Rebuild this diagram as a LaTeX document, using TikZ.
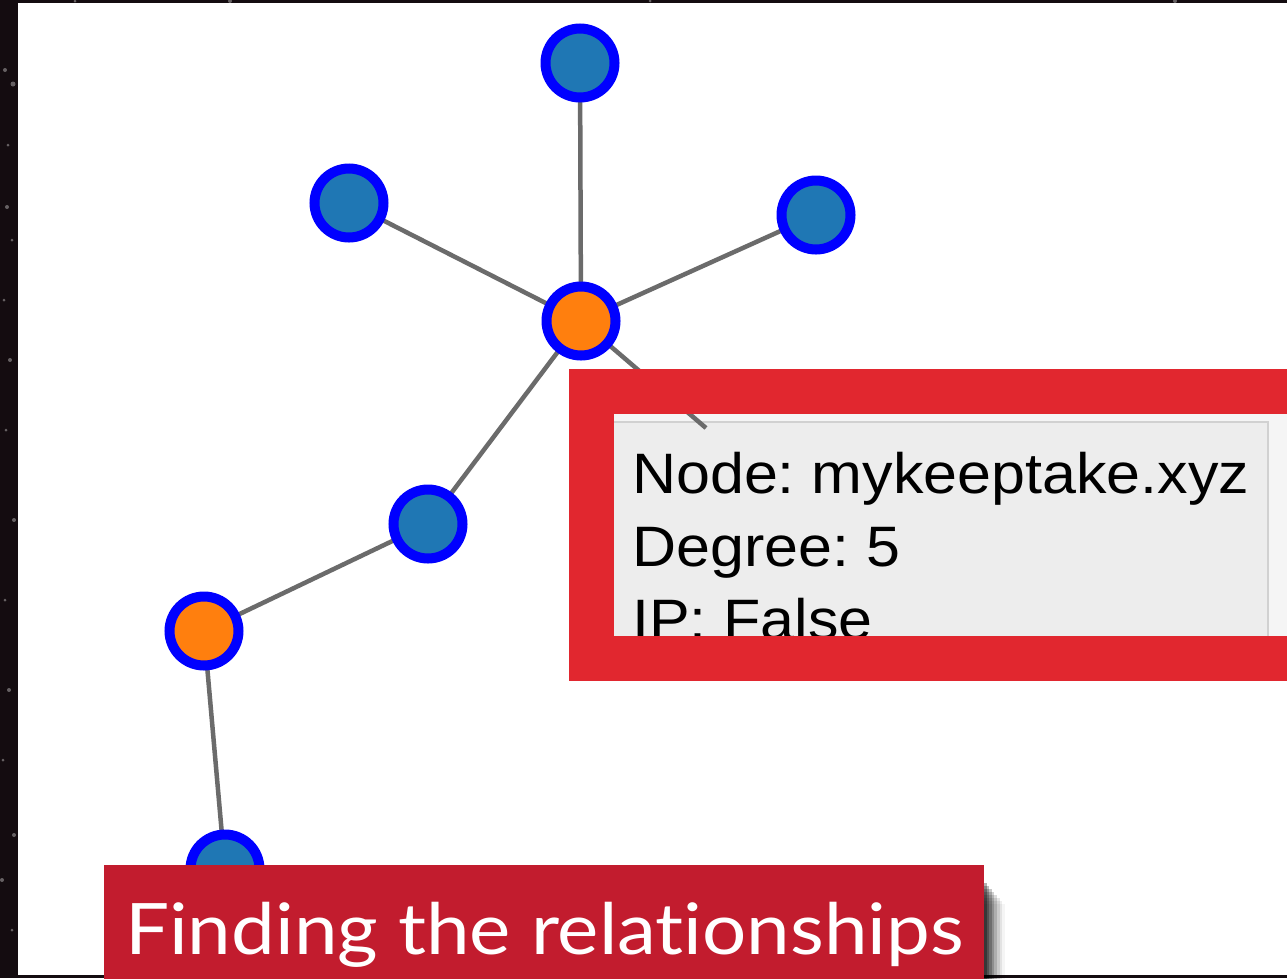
\documentclass[tikz,border=0pt]{standalone}
\usepackage{fontspec}
\setmainfont{Liberation Sans}
\newfontfamily\tipfont[FakeStretch=1.07]{Liberation Sans}
\newfontfamily\capfont[FakeStretch=1.1, Ligatures=NoCommon]{Lato}
\usetikzlibrary{fadings}

\definecolor{night}{HTML}{140C10}
\definecolor{nodeblue}{HTML}{1F77B4}
\definecolor{ringblue}{HTML}{0000FF}
\definecolor{nodeorange}{HTML}{FF7F0E}
\definecolor{edgegray}{HTML}{6B6B6B}
\definecolor{framered}{HTML}{E1272F}
\definecolor{capred}{HTML}{C21C2E}
\definecolor{tipgray}{HTML}{EDEDED}

\pgfdeclarelayer{back}
\pgfdeclarelayer{under}
\pgfsetlayers{back,under,main}

\tikzset{
  vertex/.style={circle, draw=ringblue, line width=10pt, minimum size=69pt, inner sep=0pt},
  plain/.style={vertex, fill=nodeblue},
  hub/.style={vertex, fill=nodeorange},
  link/.style={draw=edgegray, line width=4.5pt},
  tipline/.style={font=\tipfont\fontsize{57}{60}\selectfont\frenchspacing, text=black, inner sep=0pt, anchor=base west},
  captext/.style={font=\capfont\fontsize{71}{74}\selectfont\frenchspacing, text=white, inner sep=0pt, anchor=base west},
  star/.style={fill=white, opacity=0.35}
}

\begin{document}
\begin{tikzpicture}[x=1pt, y=-1pt]
\useasboundingbox (0,0) rectangle (1287,978);
\clip (0,0) rectangle (1287,978);

% dark sky behind the white sheet
\begin{pgfonlayer}{back}
  \fill[night] (0,0) rectangle (1287,978);
  \foreach \sx/\sy/\sr in {5/70/2, 13/84/2.5, 8/145/1.5, 7/207/2, 12/240/1.5, 4/300/1.5,
                           10/360/2, 6/430/1.5, 14/520/2, 5/600/1.5, 9/690/2, 3/760/1.5,
                           14/835/2, 2/880/2, 12/930/1.5, 75/1/1.5, 230/1/2, 650/1/1.5, 1175/1/2}
    \fill[star] (\sx,\sy) circle (\sr);
  \fill[white] (18,3) rectangle (1287,975);
\end{pgfonlayer}

% tooltip panel
\begin{pgfonlayer}{under}
  \fill[white!96!black] (614,414) rectangle (1287,636);
  \fill[tipgray] (614,422) rectangle (1268,640);
  \draw[black!18, line width=1.5pt] (614,422) -- (1268,422) -- (1268,640);
\end{pgfonlayer}

% graph vertices
\node[plain] (top)   at (580,63)  {};
\node[plain] (ul)    at (349,203) {};
\node[plain] (ur)    at (816,215) {};
\node[hub]   (hubA)  at (581,321) {};
\node[plain] (mid)   at (428,524) {};
\node[hub]   (hubB)  at (204,631) {};
\node[plain] (low)   at (225,869) {};
\coordinate (hidden) at (706,428);

% edges
\begin{pgfonlayer}{under}
  \draw[link] (hubA.center) -- (top.center);
  \draw[link] (hubA.center) -- (ul.center);
  \draw[link] (hubA.center) -- (ur.center);
  \draw[link] (hubA.center) -- (mid.center);
  \draw[link] (hubA.center) -- (hidden);
  \draw[link] (mid.center) -- (hubB.center);
  \draw[link] (hubB.center) -- (low.center);
\end{pgfonlayer}

% tooltip text
\node[tipline] (tipname)   at (632,493) {Node: mykeeptake.xyz};
\node[tipline] (tipdegree) at (632,566) {Degree: 5};
\node[tipline] (tipip)     at (632,639) {IP: False};

% highlight frame around the tooltip
\draw[framered, line width=45pt] (591.5,391.5) rectangle (1340,658.5);

% soft shadow to the right of the caption banner
\foreach \k/\op in {1/0.30, 2/0.26, 3/0.22, 4/0.18, 5/0.14, 6/0.10, 7/0.07, 8/0.04}
  \fill[black, opacity=\op] (984,{880+3*\k}) rectangle ({984+2.6*\k},990);

% caption banner
\fill[capred] (104,865) rectangle (984,990);
\node[captext] (caption) at (125,954) {Finding the relationships};
\end{tikzpicture}
\end{document}
